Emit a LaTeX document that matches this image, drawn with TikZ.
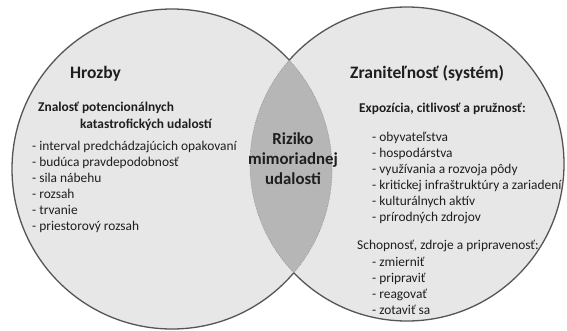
\documentclass[tikz,border=0pt]{standalone}
\usepackage{fontspec}
\setmainfont{Carlito}
\begin{document}
\begin{tikzpicture}[x=1pt,y=-1pt,
  outline/.style={draw=edgegray,line width=1.3pt},
  lensedge/.style={draw=gray!80,line width=0.6pt,dash pattern=on 1.2pt off 1.2pt},
  title/.style={anchor=base west,inner sep=0pt,text=textgray,font=\fontsize{17.5}{20}\selectfont\bfseries},
  head/.style={anchor=base west,inner sep=0pt,text=textgray,font=\fontsize{13.4}{16}\selectfont\bfseries},
  item/.style={anchor=base west,inner sep=0pt,text=textgray,font=\fontsize{13.4}{16}\selectfont},
  center/.style={align=center,inner sep=0pt,text=textgray,font=\fontsize{16.8}{20}\selectfont\bfseries}]
\definecolor{circgray}{RGB}{231,231,231}
\definecolor{lensgray}{RGB}{182,182,182}
\definecolor{edgegray}{RGB}{85,85,85}
\definecolor{textgray}{RGB}{30,30,30}
\useasboundingbox[fill=white] (0,0) rectangle (567,330);

\coordinate (L) at (172,169);
\coordinate (R) at (407,164);
\def\rl{160pt}
\def\rr{157pt}

% the two circles
\fill[circgray] (L) circle[radius=\rl];
\fill[circgray] (R) circle[radius=\rr];

% overlap region
\begin{scope}
  \clip (L) circle[radius=\rl];
  \fill[lensgray] (R) circle[radius=\rr];
\end{scope}

% solid outlines outside the overlap
\begin{scope}[even odd rule]
  \clip (-10,-10) rectangle (580,340) (R) circle[radius=\rr];
  \draw[outline] (L) circle[radius=\rl];
\end{scope}
\begin{scope}[even odd rule]
  \clip (-10,-10) rectangle (580,340) (L) circle[radius=\rl];
  \draw[outline] (R) circle[radius=\rr];
\end{scope}

% dotted borders of the overlap
\begin{scope}
  \clip (R) circle[radius=\rr];
  \draw[lensedge] (L) circle[radius=\rl];
\end{scope}
\begin{scope}
  \clip (L) circle[radius=\rl];
  \draw[lensedge] (R) circle[radius=\rr];
\end{scope}

% left circle: hazards
\node[title] (hrozby) at (70,78) {Hrozby};
\node[head] (zn1) at (38,111) {Znalosť potencionálnych};
\node[head] (zn2) at (80,128) {katastrofických udalostí};
\node[item] (h1) at (32,150) {- interval predchádzajúcich opakovaní};
\node[item] (h2) at (32,166) {- budúca pravdepodobnosť};
\node[item] (h3) at (32,182) {- sila nábehu};
\node[item] (h4) at (32,198) {- rozsah};
\node[item] (h5) at (32,214) {- trvanie};
\node[item] (h6) at (32,230) {- priestorový rozsah};

% overlap: risk
\node[center] (riziko) at (293,159) {Riziko\\mimoriadnej\\udalosti};

% right circle: vulnerability
\node[title] (zran) at (350,78) {Zraniteľnosť (systém)};
\node[head] (expo) at (359,112) {Expozícia, citlivosť a pružnosť:};
\node[item] (v1) at (372,141) {- obyvateľstva};
\node[item] (v2) at (372,157) {- hospodárstva};
\node[item] (v3) at (372,173) {- využívania a rozvoja pôdy};
\node[item] (v4) at (372,189) {- kritickej infraštruktúry a zariadení};
\node[item] (v5) at (372,205) {- kulturálnych aktív};
\node[item] (v6) at (372,221) {- prírodných zdrojov};
\node[item] (schop) at (357,249) {Schopnosť, zdroje a pripravenosť:};
\node[item] (s1) at (372,266) {- zmierniť};
\node[item] (s2) at (372,282) {- pripraviť};
\node[item] (s3) at (372,298) {- reagovať};
\node[item] (s4) at (372,314) {- zotaviť sa};
\end{tikzpicture}
\end{document}
